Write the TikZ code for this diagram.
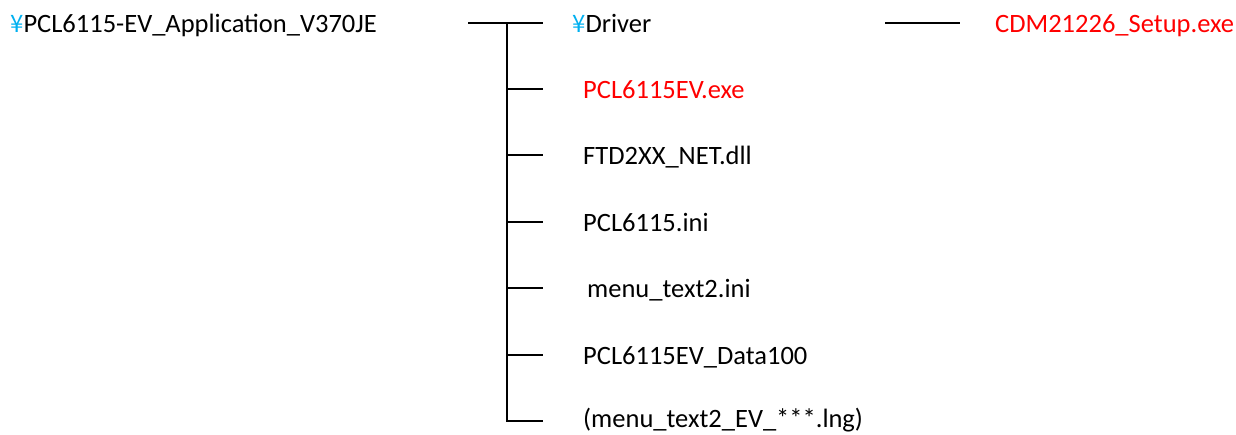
\documentclass[tikz,border=0pt]{standalone}
\usepackage{fontspec}
\setmainfont{Carlito}
\newfontfamily\yenfont{Noto Sans CJK JP}
\definecolor{yencyan}{HTML}{00B0F0}
\definecolor{filered}{HTML}{FF0000}
\tikzset{
  item/.style={anchor=base west, inner sep=0pt, font=\fontsize{26.5}{30}\selectfont, text=black},
  reditem/.style={item, text=filered},
  branch/.style={line width=2.2pt, black},
}
\newcommand{\yen}{\textcolor{yencyan}{\yenfont\fontsize{24}{28}\selectfont ¥}}
\begin{document}
\begin{tikzpicture}[x=1pt,y=-1pt]
\useasboundingbox (0,0) rectangle (1236,434);
% text nodes
\node[item] (root) at (10,32) {\yen PCL6115-EV\_Application\_V370JE};
\node[item] (driver) at (572,32) {\yen Driver};
\node[reditem] (cdm) at (995,32) {CDM21226\_Setup.exe};
\node[reditem] (exe) at (583,98) {PCL6115EV.exe};
\node[item] (ftd) at (583,164) {FTD2XX\_NET.dll};
\node[item] (ini) at (583,231) {PCL6115.ini};
\node[item] (menu) at (587,297) {menu\_text2.ini};
\node[item] (data) at (583,364) {PCL6115EV\_Data100};
\node[item] (lng) at (583,427) {(menu\_text2\_EV\_***.lng)};
% tree coordinates
\coordinate (r0) at (468,23);
\coordinate (t0) at (507,23);
\coordinate (e0) at (543,23);
\coordinate (t1) at (507,89);   \coordinate (e1) at (543,89);
\coordinate (t2) at (507,155);  \coordinate (e2) at (543,155);
\coordinate (t3) at (507,222);  \coordinate (e3) at (543,222);
\coordinate (t4) at (507,288);  \coordinate (e4) at (543,288);
\coordinate (t5) at (507,355);  \coordinate (e5) at (543,355);
\coordinate (t6) at (507,421);  \coordinate (e6) at (543,421);
\coordinate (d0) at (885,23);   \coordinate (d1) at (960,23);
% connectors
\draw[branch] (r0) -- (e0);
\draw[branch] (t0) -- (t6) -- (e6);
\draw[branch] (t1) -- (e1);
\draw[branch] (t2) -- (e2);
\draw[branch] (t3) -- (e3);
\draw[branch] (t4) -- (e4);
\draw[branch] (t5) -- (e5);
\draw[branch] (d0) -- (d1);
\end{tikzpicture}
\end{document}
